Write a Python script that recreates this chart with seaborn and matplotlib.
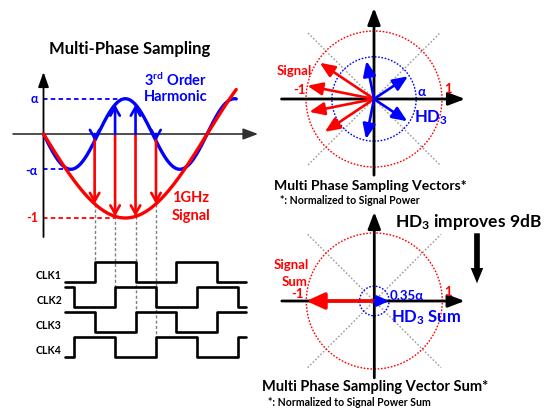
import numpy as np
import matplotlib
matplotlib.use("Agg")
import matplotlib.pyplot as plt
from matplotlib.patches import FancyArrowPatch, Circle
import seaborn as sns

# ---------------- data ----------------
sample_phase_deg = [56.25, 78.75, 101.25, 123.75]   # four sampling phases (22.5 deg apart)
clock_names = ["CLK1", "CLK2", "CLK3", "CLK4"]
clock_period_deg = 90.0
hd3_amp_wave = 0.42            # 3rd-harmonic amplitude (alpha) in the time-domain sketch
hd3_amp_vec = 0.62             # alpha circle radius in the vector diagrams
signal_vec_len = [0.96, 1.00, 0.97, 0.87]   # per-phase signal vector length
hd3_vec_len = [0.97, 0.95, 0.97, 0.92]      # per-phase HD3 vector length (x alpha)
wave_span_deg = (0.0, 212.0)
clock_span_deg = (23.6, 222.8)

RED = "#ff0000"
BLUE = "#0000ff"

sns.set_theme(style="white")
plt.rcParams["font.family"] = ["Lato", "DejaVu Sans"]
plt.rcParams["font.weight"] = "bold"
plt.rcParams["mathtext.fontset"] = "custom"
plt.rcParams["mathtext.rm"] = "Lato:bold"
plt.rcParams["mathtext.bf"] = "Lato:bold"
plt.rcParams["mathtext.it"] = "Lato:bold"

W, H = 558, 408
fig = plt.figure(figsize=(W / 100, H / 100), dpi=100)
fig.patch.set_facecolor("white")


def add_axes_px(x0, y0, x1, y1, xlim, ylim):
    ax = fig.add_axes([x0 / W, 1 - y1 / H, (x1 - x0) / W, (y1 - y0) / H])
    ax.set_xlim(*xlim)
    ax.set_ylim(*ylim)
    ax.set_axis_off()
    return ax


def arrow(ax, p0, p1, color, lw, hl, hw, style="-|>", z=3):
    a = FancyArrowPatch(p0, p1, arrowstyle=f"{style},head_length={hl},head_width={hw}",
                        mutation_scale=1, lw=lw, color=color, shrinkA=0, shrinkB=0,
                        clip_on=False, zorder=z)
    ax.add_patch(a)


def text_px(x, y, s, size, color="black", ha="center", va="center", **kw):
    fig.text(x / W, 1 - y / H, s, fontsize=size, color=color, ha=ha, va=va,
             fontweight="bold", **kw)


# ======== time-domain waveform with sampling clocks ========
DEG_PER_PX = 1.1
X0_PX, Y0_PX, UNIT_PX = 43.5, 134.0, 84.0
axw = add_axes_px(0, 55, 270, 375,
                  ((0 - X0_PX) * DEG_PER_PX, (270 - X0_PX) * DEG_PER_PX),
                  ((Y0_PX - 375) / UNIT_PX, (Y0_PX - 55) / UNIT_PX))

th = np.linspace(*wave_span_deg, 600)
sig = -np.sin(np.radians(th))
hd3 = -hd3_amp_wave * np.sin(np.radians(3 * th))

# reference levels
axw.plot([0, 90], [hd3_amp_wave] * 2, color=BLUE, lw=1.3, ls=(0, (2.5, 1.8)), zorder=1)
axw.plot([0, 30], [-hd3_amp_wave] * 2, color=BLUE, lw=1.3, ls=(0, (2.5, 1.8)), zorder=1)
axw.plot([0, 80], [-1, -1], color=RED, lw=1.3, ls=(0, (2.5, 1.8)), zorder=1)

# axes of the sketch
arrow(axw, (-33.5, 0), (236.0, 0), "#303030", 1.2, 9, 3.4, z=2)
arrow(axw, (0, -1.226), (0, 0.738), "black", 1.3, 9, 3.2, z=2)

sns.lineplot(x=th, y=hd3, ax=axw, color=BLUE, lw=2.4, estimator=None, sort=False, zorder=4)
sns.lineplot(x=th, y=sig, ax=axw, color=RED, lw=2.4, estimator=None, sort=False, zorder=5)

# clock rows
row_step, clk_amp, clk1_low = 25 / UNIT_PX, 20 / UNIT_PX, (Y0_PX - 281.7) / UNIT_PX
for k, (name, ph) in enumerate(zip(clock_names, sample_phase_deg)):
    low = clk1_low - k * row_step
    half = clock_period_deg / 2
    start, stop = clock_span_deg
    level = 1 if ((start - ph) % clock_period_deg) < half else 0
    xs, ys = [start], [level]
    t = ph + np.ceil((start - ph) / half) * half
    while t < stop:
        xs += [t, t]
        ys += [level, 1 - level]
        level = 1 - level
        t += half
    xs.append(stop)
    ys.append(level)
    yv = [low + clk_amp * v for v in ys]
    sns.lineplot(x=xs, y=yv, ax=axw, color="black", lw=1.9, estimator=None, sort=False)
    axw.text((62 - X0_PX) * DEG_PER_PX, low + 6.5 / UNIT_PX, name, ha="right", va="center",
             fontsize=7.6, fontweight="bold", color="black")
    # dashed guide from the sampled value down to the clock's rising edge
    s_val = -np.sin(np.radians(ph))
    axw.plot([ph, ph], [s_val, low + clk_amp], color="#808080", lw=1.0,
             ls=(0, (2.2, 1.6)), zorder=1)

# sampling arrows
for ph in sample_phase_deg:
    s_val = -np.sin(np.radians(ph))
    arrow(axw, (ph, 0), (ph, s_val), RED, 1.9, 6, 3.4, style="->", z=6)
for ph in sample_phase_deg:
    h_val = -hd3_amp_wave * np.sin(np.radians(3 * ph))
    arrow(axw, (ph, 0), (ph, h_val), BLUE, 1.9, 6, 3.4, style="->", z=7)

text_px(130, 49, "Multi-Phase Sampling", 12)
text_px(176, 80, r"3$^{\mathbf{rd}}$ Order", 10.5, BLUE)
text_px(176, 97, "Harmonic", 10.5, BLUE)
text_px(38, 99, "α", 9, BLUE, ha="right")
text_px(38, 171, "-α", 9, BLUE, ha="right")
text_px(38, 218, "-1", 9, RED, ha="right")
text_px(191, 198, "1GHz", 10.5, RED)
text_px(191, 216, "Signal", 10.5, RED)


# ======== vector diagrams ========
R_PX = 68.0


def vector_axes(cx, cy, y0, y1):
    return add_axes_px(270, y0, 490, y1,
                       ((270 - cx) / R_PX, (490 - cx) / R_PX),
                       ((cy - y1) / R_PX, (cy - y0) / R_PX))


def frame(ax, diag, xr, yr, hd3_radius):
    for sgn in (1, -1):
        ax.plot([-diag, diag], [-sgn * diag, sgn * diag], color="#9a9a9a", lw=1.0,
                ls=(0, (1.2, 1.4)), zorder=1)
    ax.add_patch(Circle((0, 0), 1.0, fill=False, ec=RED, lw=1.0, ls=(0, (1.2, 1.2)), zorder=1))
    ax.add_patch(Circle((0, 0), hd3_radius, fill=False, ec=BLUE, lw=1.0, ls=(0, (1.2, 1.2)),
                        zorder=1))
    arrow(ax, (xr[0], 0), (xr[1], 0), "black", 2.0, 10, 3.8, z=2)
    arrow(ax, (0, yr[0]), (0, yr[1]), "black", 2.0, 10, 3.8, z=2)


# individual sampling vectors
axv = vector_axes(374, 99, 0, 178)
frame(axv, 0.97, (-1.36, 1.34), (-1.12, 1.34), hd3_amp_vec)
sig_ang = [ph + 90 for ph in sample_phase_deg]
hd3_ang = [3 * ph + 90 for ph in sample_phase_deg]
for a, L in zip(sig_ang, signal_vec_len):
    arrow(axv, (0, 0), (L * np.cos(np.radians(a)), L * np.sin(np.radians(a))),
          RED, 1.9, 9, 3.8, z=4)
for a, L in zip(hd3_ang, hd3_vec_len):
    r = L * hd3_amp_vec
    arrow(axv, (0, 0), (r * np.cos(np.radians(a)), r * np.sin(np.radians(a))),
          BLUE, 1.9, 9, 3.8, z=5)

text_px(294, 71, "Signal", 9.5, RED)
text_px(299, 90, "-1", 9.5, RED)
text_px(448, 89, "1", 9.5, RED)
text_px(422, 92, "α", 9.5, BLUE)
text_px(431, 118, r"HD$_{\mathbf{3}}$", 12, BLUE)
text_px(370, 186.5, "Multi Phase Sampling Vectors*", 10.1)
text_px(280, 201, "*: Normalized to Signal Power", 7.6, ha="left")

# summed vectors
sig_sum = np.sum(np.exp(1j * np.radians(sig_ang)))
hd3_sum = np.sum(np.exp(1j * np.radians(hd3_ang)))
hd3_ratio = abs(hd3_sum) / abs(sig_sum)          # ~0.35
sum_sig = sig_sum / abs(sig_sum)
sum_hd3 = hd3_ratio * hd3_amp_vec * hd3_sum / abs(hd3_sum)

axs = vector_axes(374.3, 301, 200, 385)
frame(axs, 0.98, (-1.36, 1.33), (-1.13, 1.31), hd3_ratio * hd3_amp_vec)
arrow(axs, (0, 0), (sum_sig.real, sum_sig.imag), RED, 2.6, 11, 5.0, z=4)
arrow(axs, (0, 0), (sum_hd3.real, sum_hd3.imag), BLUE, 2.0, 7, 3.2, z=5)
axs.add_patch(FancyArrowPatch((1.51, 0.996), (1.51, 0.26),
                              arrowstyle="simple,head_length=11,head_width=9,tail_width=4.1",
                              mutation_scale=1, color="black", lw=0, shrinkA=0, shrinkB=0,
                              clip_on=False))

text_px(468, 222, r"HD$_{\mathbf{3}}$ improves 9dB", 12.5)
text_px(291, 265, "Signal", 9.5, RED)
text_px(295, 282, "Sum", 9.5, RED)
text_px(297, 294, "-1", 9.5, RED)
text_px(448, 292, "1", 9.5, RED)
text_px(390, 296, f"{hd3_ratio:.2f}α", 9.5, BLUE, ha="left")
text_px(426, 318, r"HD$_{\mathbf{3}}$ Sum", 12, BLUE)
text_px(375, 387, "Multi Phase Sampling Vector Sum*", 10.5)
text_px(268, 403, "*: Normalized to Signal Power Sum", 7.6, ha="left")

fig.savefig("out.png", dpi=100, facecolor="white")
